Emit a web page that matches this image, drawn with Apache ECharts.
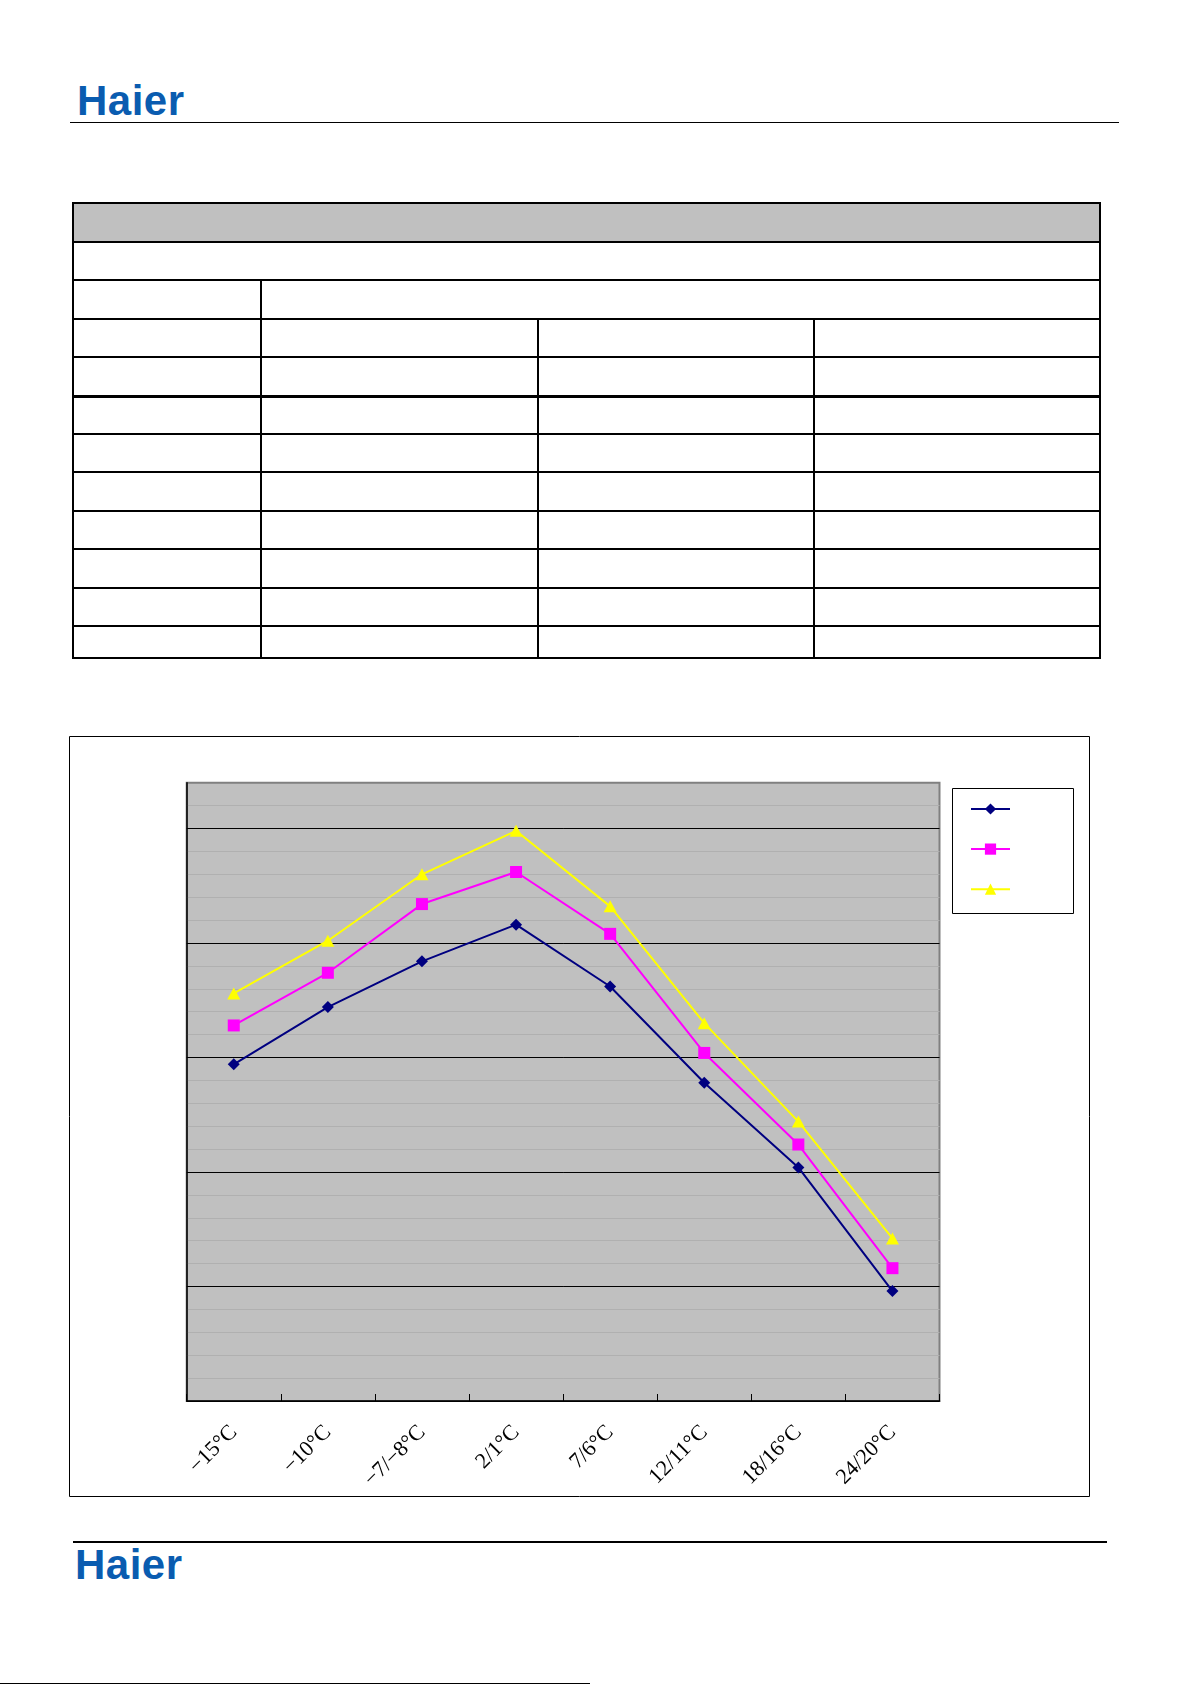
<!DOCTYPE html>
<html>

<head>
    <meta charset="UTF-8">
    <title>Haier</title>
    <script src="https://cdn.jsdelivr.net/npm/echarts@6/dist/echarts.min.js"></script>
    <style>
        body { margin: 0; background: #fff; }
        .page { position: relative; width: 1191px; height: 1685px; overflow: hidden; }
        .logo { position: absolute; font-family: "Liberation Sans", Arial, sans-serif; font-weight: bold;
                font-size: 42px; line-height: 42px; color: #0a5cb0; letter-spacing: 0.5px; }
        .rule { position: absolute; background: #000; }
        table.spec { position: absolute; left: 72px; top: 202px; width: 1029px; border-collapse: collapse; table-layout: fixed; }
        table.spec td { border: 2px solid #000; padding: 0; }
        table.spec tr.head td { background: #c0c0c0; }
        table.spec tr.thick td { border-top-width: 3px; }
    </style>
</head>

<body>
    <div class="page">
        <div class="logo" style="left:77px; top:80px;">Haier</div>
        <div class="rule" style="left:70px; top:122px; width:1049px; height:1px;"></div>

        <table class="spec">
            <col style="width:188px"><col style="width:277px"><col style="width:276px"><col style="width:286px">
            <tr class="head" style="height:39px"><td colspan="4"></td></tr>
            <tr style="height:38px"><td colspan="4"></td></tr>
            <tr style="height:39px"><td></td><td colspan="3"></td></tr>
            <tr style="height:38px"><td></td><td></td><td></td><td></td></tr>
            <tr style="height:39px"><td></td><td></td><td></td><td></td></tr>
            <tr class="thick" style="height:38px"><td></td><td></td><td></td><td></td></tr>
            <tr style="height:38px"><td></td><td></td><td></td><td></td></tr>
            <tr style="height:39px"><td></td><td></td><td></td><td></td></tr>
            <tr style="height:38px"><td></td><td></td><td></td><td></td></tr>
            <tr style="height:39px"><td></td><td></td><td></td><td></td></tr>
            <tr style="height:38px"><td></td><td></td><td></td><td></td></tr>
            <tr style="height:32px"><td></td><td></td><td></td><td></td></tr>
        </table>

        <div class="rule" style="left:73px; top:1541px; width:1034px; height:2px;"></div>
        <div class="logo" style="left:75px; top:1544px;">Haier</div>
        <div class="rule" style="left:0px; top:1683px; width:590px; height:1px;"></div>

        <div id="chart" style="position:absolute; left:0; top:0; width:1191px; height:1685px;"></div>
    </div>
    <script>
        // outdoor / indoor temperature points
        var categories = ['−15°C', '−10°C', '−7/−8°C', '2/1°C', '7/6°C', '12/11°C', '18/16°C', '24/20°C'];

        var navyValues = [14.7, 17.2, 19.2, 20.8, 18.1, 13.9, 10.2, 4.8];
        var pinkValues = [16.4, 18.7, 21.7, 23.1, 20.4, 15.2, 11.2, 5.8];
        var yellowValues = [17.8, 20.1, 23.0, 24.9, 21.6, 16.5, 12.2, 7.1];

        var chart = echarts.init(document.getElementById('chart'), null, { renderer: 'canvas' });

        var option = {
            animation: false,
            graphic: [
                { type: 'rect', shape: { x: 69.5, y: 736.5, width: 1020, height: 760 }, style: { fill: 'none', stroke: '#000', lineWidth: 1 } },
                { type: 'rect', shape: { x: 952.5, y: 788.5, width: 121, height: 125 }, style: { fill: '#fff', stroke: '#000', lineWidth: 1 }, z: -1 }
            ],
            legend: {
                orient: 'vertical',
                left: 970,
                top: 802,
                padding: 0,
                itemWidth: 39,
                itemHeight: 14,
                itemGap: 27.5,
                formatter: function () { return ''; },
                data: ['series1', 'series2', 'series3']
            },
            grid: {
                left: 186.7,
                top: 782.7,
                width: 752.8,
                height: 618.3,
                show: true,
                backgroundColor: '#c0c0c0',
                borderColor: '#808080',
                borderWidth: 2
            },
            xAxis: {
                type: 'category',
                data: categories,
                boundaryGap: true,
                axisLine: { lineStyle: { color: '#000', width: 1.5 } },
                axisTick: { show: true, inside: true, length: 7, lineStyle: { color: '#000', width: 1 } },
                axisLabel: {
                    interval: 0,
                    rotate: 45,
                    margin: 28,
                    color: '#000',
                    fontFamily: 'Liberation Serif',
                    fontSize: 22
                },
                splitLine: { show: false }
            },
            yAxis: {
                type: 'value',
                min: 0,
                max: 27,
                interval: 5,
                axisLine: { show: true, lineStyle: { color: '#000', width: 1.5 } },
                axisTick: { show: false },
                axisLabel: { show: false },
                splitLine: { show: true, showMaxLine: false, lineStyle: { color: '#000', width: 1 } },
                minorTick: { show: false, splitNumber: 5 },
                minorSplitLine: { show: true, lineStyle: { color: '#b0b0b0', width: 1 } }
            },
            series: [
                {
                    name: 'series1', type: 'line', data: navyValues,
                    symbol: 'diamond', symbolSize: 12,
                    lineStyle: { color: '#000080', width: 2 },
                    itemStyle: { color: '#000080' }
                },
                {
                    name: 'series2', type: 'line', data: pinkValues,
                    symbol: 'rect', symbolSize: 12,
                    lineStyle: { color: '#ff00ff', width: 2 },
                    itemStyle: { color: '#ff00ff' }
                },
                {
                    name: 'series3', type: 'line', data: yellowValues,
                    symbol: 'triangle', symbolSize: [13, 12],
                    lineStyle: { color: '#ffff00', width: 2 },
                    itemStyle: { color: '#ffff00' }
                }
            ]
        };

        chart.setOption(option);
    </script>
</body>

</html>
